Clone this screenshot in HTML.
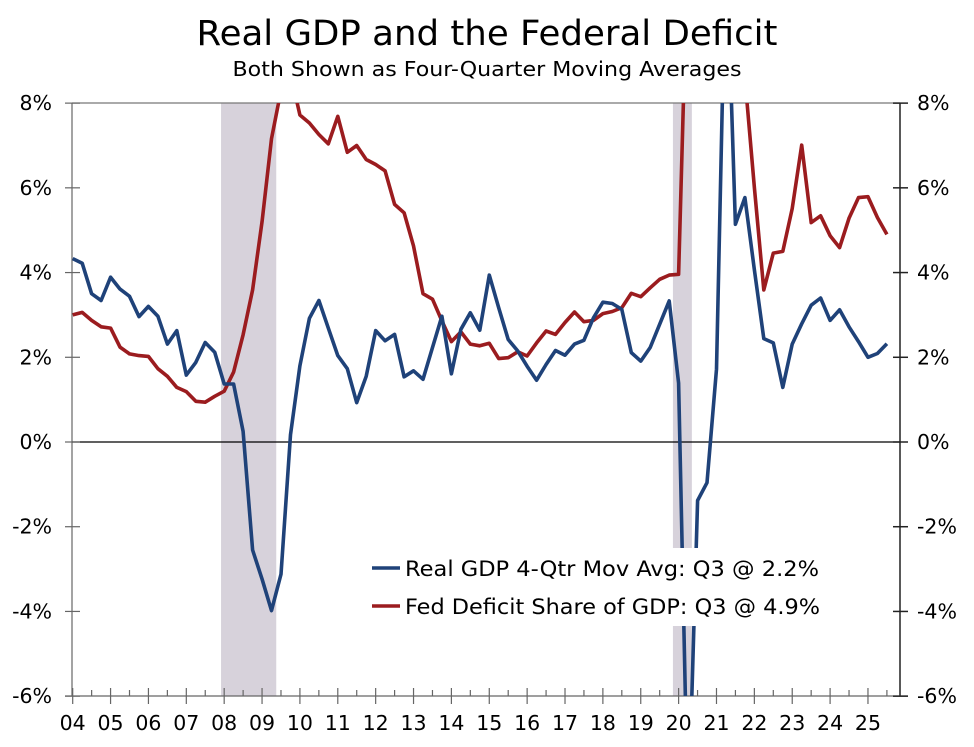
<!DOCTYPE html>
<html><head><meta charset="utf-8"><style>
html,body{margin:0;padding:0;background:#fff;overflow:hidden;width:974px;height:747px;}
svg{display:block;font-family:"DejaVu Sans","Liberation Sans",sans-serif;}
</style></head><body>
<svg id="chart" width="974" height="747" viewBox="0 0 974 747">
<text x="487" y="45" text-anchor="middle" font-size="35" textLength="581" lengthAdjust="spacingAndGlyphs" fill="#000">Real GDP and the Federal Deficit</text>
<text x="487" y="76" text-anchor="middle" font-size="20" textLength="509" lengthAdjust="spacingAndGlyphs" fill="#000">Both Shown as Four-Quarter Moving Averages</text>
<defs><clipPath id="plotclip"><rect x="72" y="103" width="828" height="593"/></clipPath></defs>
<g id="shade"></g>
<g id="grid"></g>
<g id="lines" clip-path="url(#plotclip)"></g>
<g>
<rect x="365" y="548" width="465" height="78" fill="#fff"/>
<line x1="372" y1="568" x2="400" y2="568" stroke="#1f4279" stroke-width="3.5"/>
<text x="405" y="576" font-size="21" textLength="414" lengthAdjust="spacingAndGlyphs">Real GDP 4-Qtr Mov Avg: Q3 @ 2.2%</text>
<line x1="372" y1="606" x2="400" y2="606" stroke="#9b1c1f" stroke-width="3.5"/>
<text x="405" y="614" font-size="21" textLength="415" lengthAdjust="spacingAndGlyphs">Fed Deficit Share of GDP: Q3 @ 4.9%</text>
</g>
</svg>
<script>
const startYear = 2004;
const gdp = [4.33,4.22,3.50,3.34, 3.89,3.61,3.44,2.96, 3.20,2.97,2.31,2.63, 1.58,1.88,2.35,2.12,
 1.37,1.37,0.25,-2.55, -3.24,-3.98,-3.12,0.17, 1.80,2.92,3.34,2.69, 2.04,1.73,0.93,1.55,
 2.63,2.39,2.54,1.54, 1.68,1.48,2.23,2.97, 1.61,2.66,3.05,2.64, 3.94,3.17,2.42,2.15,
 1.79,1.46,1.83,2.16, 2.05,2.31,2.40,2.93, 3.30,3.27,3.13,2.11, 1.91,2.23,2.78,3.33,
 1.39,-9.0,-1.38,-0.96, 1.72,12.0,5.14,5.77, 4.06,2.44,2.34,1.29, 2.31,2.79,3.23,3.40,
 2.87,3.12,2.72,2.37, 2.00,2.09,2.32];
const deficit = [3.00,3.06,2.87,2.72, 2.69,2.24,2.08,2.04, 2.02,1.73,1.55,1.29, 1.19,0.96,0.94,1.08,
 1.20,1.65,2.53,3.59, 5.21,7.16,8.3,8.7, 7.72,7.53,7.26,7.04, 7.69,6.84,7.00,6.67,
 6.55,6.40,5.61,5.41, 4.63,3.50,3.37,2.86, 2.37,2.60,2.31,2.27, 2.33,1.97,1.99,2.13,
 2.03,2.34,2.62,2.54, 2.82,3.07,2.84,2.87, 3.03,3.08,3.17,3.51, 3.43,3.64,3.84,3.94,
 3.96,12.0,14.5,15.0, 15.5,13.0,11.0,8.6, 6.0,3.59,4.46,4.50, 5.51,7.01,5.18,5.34,
 4.87,4.59,5.28,5.77, 5.79,5.30,4.90];
const recessions = [[2007.917,2009.375],[2019.85,2020.35]];
const yTicks = [8,6,4,2,0,-2,-4,-6];
const yearLabels = ["04","05","06","07","08","09","10","11","12","13","14","15","16","17","18","19","20","21","22","23","24","25"];

const X0=72.7, YW=37.87, Y0=442, YS=42.36, TOP=103, BOT=696, L=72, R=900;
const xS = t => X0+(t-startYear)*YW;
const yS = v => Y0 - v*YS;
const NS="http://www.w3.org/2000/svg";
function mk(tag, attrs, parent){const e=document.createElementNS(NS,tag);for(const k in attrs)e.setAttribute(k,attrs[k]);parent.appendChild(e);return e;}
const shade=document.getElementById('shade'), grid=document.getElementById('grid'), lines=document.getElementById('lines');

recessions.forEach(r=>{
  const e=mk('rect',{x:xS(r[0]),y:TOP,width:xS(r[1])-xS(r[0]),height:BOT-TOP,fill:'#d7d2db'},shade);
  
  
});
let e;
e=mk('line',{x1:L,y1:TOP,x2:R,y2:TOP,stroke:'#777','stroke-width':1.2},grid);


e=mk('line',{x1:L,y1:TOP,x2:L,y2:BOT,stroke:'#666','stroke-width':1.2},grid);


e=mk('line',{x1:R,y1:TOP,x2:R,y2:BOT,stroke:'#222','stroke-width':1.5},grid);


e=mk('line',{x1:65,y1:BOT,x2:908,y2:BOT,stroke:'#666','stroke-width':1.2},grid);


e=mk('line',{x1:L,y1:yS(0),x2:R,y2:yS(0),stroke:'#000','stroke-width':1.3},grid);



yTicks.forEach(v=>{
  const y=yS(v);
  let t=mk('line',{x1:65,y1:y,x2:80,y2:y,stroke:'#666','stroke-width':1.2},grid);
  
  
  t=mk('line',{x1:893,y1:y,x2:908,y2:y,stroke:'#222','stroke-width':1.5},grid);
  
  
  let tx=mk('text',{x:52,y:y+7,'text-anchor':'end','font-size':20.5},grid);
  tx.textContent=v+'%';
  
  
  tx=mk('text',{x:917,y:y+7,'text-anchor':'start','font-size':20.5},grid);
  tx.textContent=v+'%';
  
  
});
yearLabels.forEach((lab,i)=>{
  const x=xS(startYear+i);
  let t=mk('line',{x1:x,y1:688,x2:x,y2:704,stroke:'#666','stroke-width':1.2},grid);
  
  
  const xm=xS(startYear+i+0.5);
  if(xm<R){
    t=mk('line',{x1:xm,y1:690,x2:xm,y2:696,stroke:'#666','stroke-width':1.2},grid);
    
    
  }
  const tx=mk('text',{x:x,y:730,'text-anchor':'middle','font-size':20.5},grid);
  tx.textContent=lab;
  
  
});
function pts(arr){return arr.map((v,i)=>xS(startYear+i/4).toFixed(1)+','+yS(v).toFixed(1)).join(' ');}
e=mk('polyline',{points:pts(deficit),fill:'none',stroke:'#9b1c1f','stroke-width':3.6,'stroke-linejoin':'round'},lines);


e=mk('polyline',{points:pts(gdp),fill:'none',stroke:'#1f4279','stroke-width':3.6,'stroke-linejoin':'round'},lines);


</script>
</body></html>
